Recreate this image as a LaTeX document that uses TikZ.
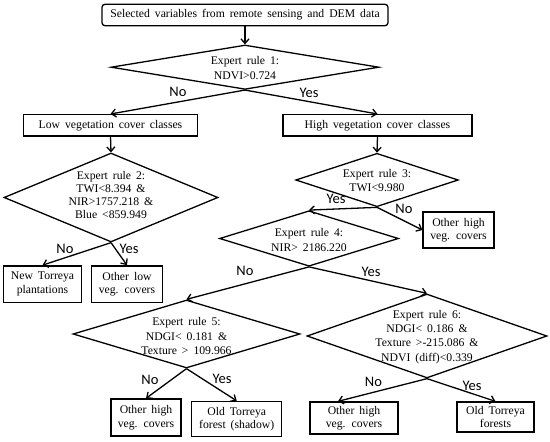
\documentclass[tikz,border=0pt]{standalone}
\usepackage{fontspec}
\setmainfont{Liberation Serif}[WordSpace=1.7]
\newfontfamily\lblfont{Carlito}
\usetikzlibrary{shapes.geometric,arrows.meta,calc}
\begin{document}
\begin{tikzpicture}[x=1pt,y=-1pt,
  box/.style={draw, line width=1.3pt, inner sep=0pt, align=center, font=\fontsize{11.7}{13.5}\selectfont},
  dia/.style={draw, diamond, line width=1.3pt, inner sep=0pt},
  dtext/.style={align=center, font=\fontsize{11.7}{13.5}\selectfont, inner sep=0pt},
  yn/.style={font=\lblfont\fontsize{14.5}{16}\selectfont, inner sep=0pt},
  arr/.style={line width=1.3pt, -{Straight Barb[length=4.5pt,width=8pt]}}]
\useasboundingbox (0,0) rectangle (550,442);
% top
\node[box, rounded corners=3pt, minimum width=286pt, minimum height=21.4pt] (top) at (245,15) {Selected variables from remote sensing and DEM data};
% rule 1
\node[dia, minimum width=268pt, minimum height=44.4pt] (r1) at (245,67.2) {};
\node[dtext, font=\fontsize{11.7}{15}\selectfont] (r1t) at (245,68) {Expert rule 1:\\NDVI>0.724};
\node[box, minimum width=174pt, minimum height=21.3pt] (low) at (110.5,125.3) {Low vegetation cover classes};
\node[box, minimum width=189pt, minimum height=21.3pt] (high) at (377.5,125.3) {High vegetation cover classes};
\draw[arr] (top.south) -- (r1.north);
\draw[arr] (r1.south) -- (low.north);
\draw[arr] (r1.south) -- (high.north);
\node[yn] (l1n) at (178,92) {No};
\node[yn] (l1y) at (309,93) {Yes};
% rule 2
\node[dia, minimum width=214pt, minimum height=89pt] (r2) at (111,197.5) {};
\node[dtext, font=\fontsize{11.7}{12.8}\selectfont] (r2t) at (111,195) {Expert rule 2:\\TWI<8.394 \&\\NIR>1757.218 \&\\Blue <859.949};
\node[box, minimum width=78.4pt, minimum height=36.3pt] (nt) at (42.5,284) {New Torreya\\plantations};
\node[box, minimum width=70.6pt, minimum height=36.3pt] (ol) at (127,284) {Other low\\veg. covers};
\draw[arr] (low.south) -- (r2.north);
\draw[arr] (r2.south) -- (nt.north);
\draw[arr] (r2.south) -- (ol.north);
\node[yn] (l2n) at (65,249) {No};
\node[yn] (l2y) at (129,249) {Yes};
% rule 3
\node[dia, minimum width=162.6pt, minimum height=53.4pt] (r3) at (377,180) {};
\node[dtext] (r3t) at (377,180.5) {Expert rule 3:\\TWI<9.980};
\node[box, minimum width=71pt, minimum height=36pt] (oh1) at (458.5,230) {Other high\\veg. covers};
\draw[arr] (high.south) -- (r3.north);
\node[yn] (l3y) at (336,199) {Yes};
\node[yn] (l3n) at (404,208.5) {No};
% rule 4
\node[dia, minimum width=179pt, minimum height=55.5pt] (r4) at (309,238.5) {};
\node[dtext, font=\fontsize{11.7}{15}\selectfont] (r4t) at (309,240) {Expert rule 4:\\NIR> 2186.220};
\draw[arr] (r3.south) -- (r4.north);
\draw[arr] (r3.south) -- (oh1.west);
\node[yn] (l4n) at (245,271) {No};
\node[yn] (l4y) at (371,272) {Yes};
% rule 5
\node[dia, minimum width=227pt, minimum height=68pt] (r5) at (186.5,334) {};
\node[dtext, font=\fontsize{11.7}{14.5}\selectfont] (r5t) at (186.5,336.5) {Expert rule 5:\\NDGI< 0.181 \&\\Texture > 109.966};
% rule 6
\node[dia, minimum width=240pt, minimum height=84pt] (r6) at (427,336) {};
\node[dtext, font=\fontsize{11.7}{14.3}\selectfont] (r6t) at (427,337) {Expert rule 6:\\NDGI< 0.186 \&\\Texture >-215.086 \&\\NDVI (diff)<0.339};
\draw[arr] (r4.south) -- (r5.north);
\draw[arr] (r4.south) -- (r6.north);
% leaves
\node[box, minimum width=70pt, minimum height=37pt] (oh2) at (146,417.5) {Other high\\veg. covers};
\node[box, minimum width=90pt, minimum height=35pt] (ots) at (236.7,419) {Old Torreya\\forest (shadow)};
\node[box, minimum width=88pt, minimum height=32pt] (oh3) at (354,418) {Other high\\veg. covers};
\node[box, minimum width=77pt, minimum height=30pt] (otf) at (495.5,417) {Old Torreya\\forests};
\draw[arr] (r5.south) -- (oh2.north);
\draw[arr] (r5.south) -- (ots.north);
\draw[arr] (r6.south) -- ($(oh3.north west)!0.32!(oh3.north east)$);
\draw[arr] (r6.south) -- (otf.north);
\node[yn] (l5n) at (150,380) {No};
\node[yn] (l5y) at (222,379) {Yes};
\node[yn] (l6n) at (373.5,382) {No};
\node[yn] (l6y) at (472,386) {Yes};
\end{tikzpicture}
\end{document}
